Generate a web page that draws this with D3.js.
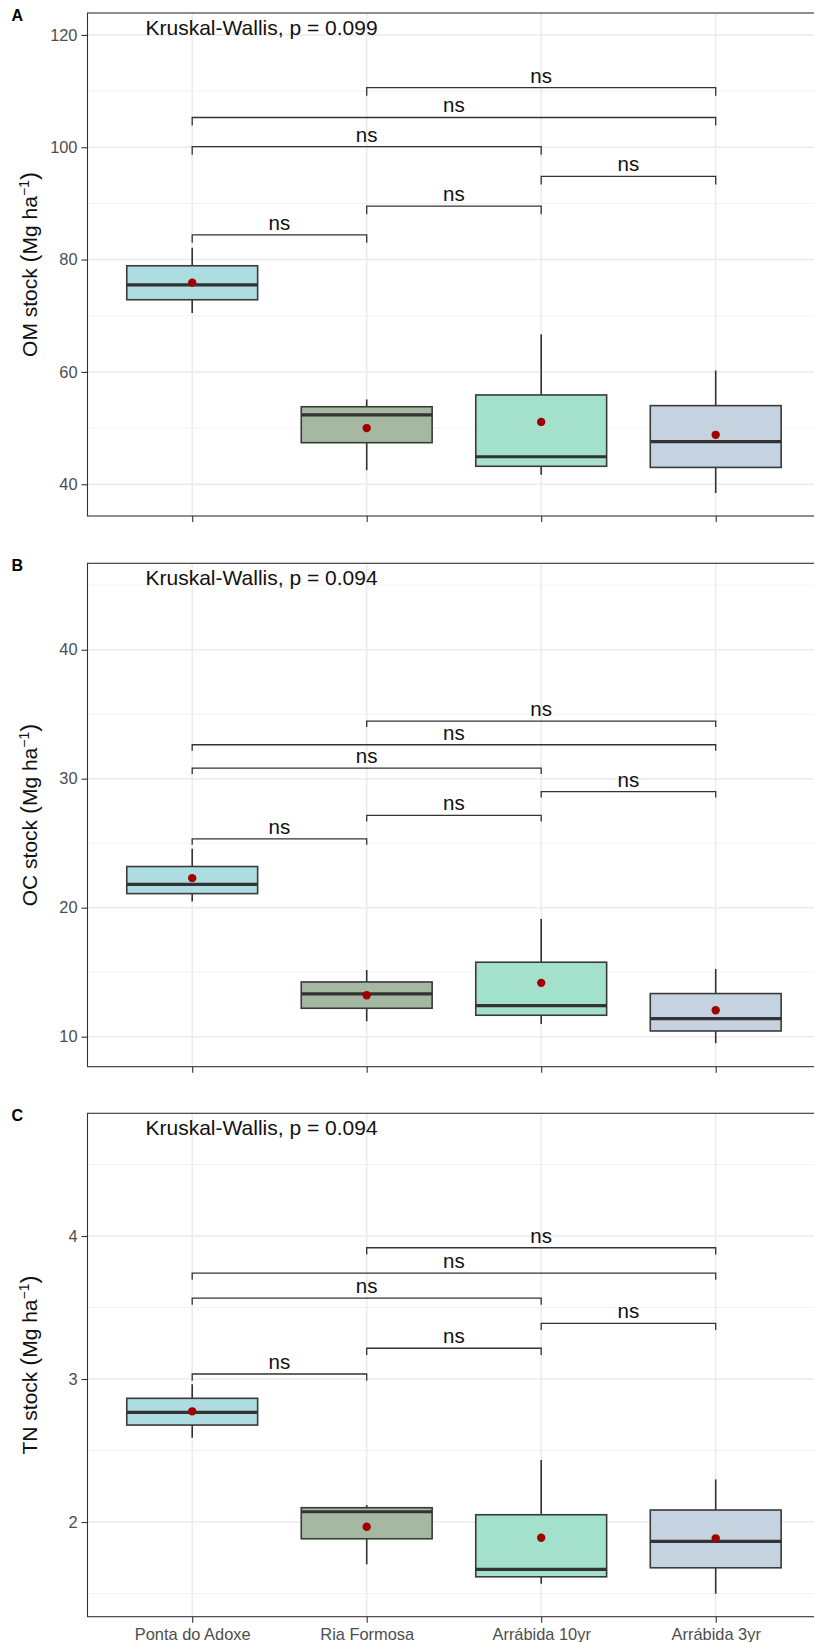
<!DOCTYPE html>
<html>
<head>
<meta charset="utf-8">
<script src="https://cdn.jsdelivr.net/npm/d3@7"></script>
<style>
  body { margin: 0; background: #fff; }
  svg { display: block; font-family: "Liberation Sans", Arial, sans-serif; }
</style>
</head>
<body>
<div id="chart"></div>
<script>
// sites on the x axis
var categories = ["Ponta do Adoxe", "Ria Formosa", "Arrábida 10yr", "Arrábida 3yr"];
var boxFills = ["#addce1", "#a5b8a2", "#a4e1cd", "#c5d3e0"];

// pairwise comparisons (index pairs) and their labels, same for all panels
var pairs = [[0, 1], [1, 2], [2, 3], [0, 2], [0, 3], [1, 3]];
var pairLabels = ["ns", "ns", "ns", "ns", "ns", "ns"];

// A - OM stock
var omLow = [70.5, 42.5, 41.7, 38.45];
var omQ1 = [72.85, 47.4, 43.2, 43.0];
var omMedian = [75.5, 52.35, 44.9, 47.6];
var omQ3 = [78.9, 53.8, 55.9, 54.0];
var omHigh = [82.1, 55.1, 66.7, 60.25];
var omMean = [75.9, 50.0, 51.1, 48.8];
var omBrackets = [84.4, 89.5, 94.8, 100.1, 105.3, 110.6];
var omTicks = [40, 60, 80, 100, 120];
var omMinor = [50, 70, 90, 110];
var omP = "Kruskal-Wallis, p = 0.099";

// B - OC stock
var ocLow = [20.47, 11.19, 10.99, 9.49];
var ocQ1 = [21.09, 12.2, 11.66, 10.44];
var ocMedian = [21.8, 13.31, 12.4, 11.4];
var ocQ3 = [23.19, 14.24, 15.77, 13.34];
var ocHigh = [24.56, 15.17, 19.13, 15.25];
var ocMean = [22.29, 13.21, 14.17, 12.05];
var ocBrackets = [25.34, 27.15, 29.0, 30.82, 32.63, 34.47];
var ocTicks = [10, 20, 30, 40];
var ocMinor = [15, 25, 35, 45];
var ocP = "Kruskal-Wallis, p = 0.094";

// C - TN stock
var tnLow = [2.59, 1.704, 1.569, 1.499];
var tnQ1 = [2.678, 1.883, 1.617, 1.68];
var tnMedian = [2.767, 2.072, 1.669, 1.865];
var tnQ3 = [2.865, 2.1, 2.051, 2.084];
var tnHigh = [2.963, 2.119, 2.434, 2.298];
var tnMean = [2.774, 1.967, 1.89, 1.886];
var tnBrackets = [3.035, 3.215, 3.389, 3.566, 3.741, 3.918];
var tnTicks = [2, 3, 4];
var tnMinor = [1.5, 2.5, 3.5, 4.5];
var tnP = "Kruskal-Wallis, p = 0.094";

var W = 814, H = 1642;
var svg = d3.select("#chart").append("svg").attr("width", W).attr("height", H);

var left = 87.5, right = 820.4;
var x = d3.scalePoint().domain(categories).range([left, right]).padding(0.6);
var boxW = x.step() * 0.75;

var panels = [
  {tag: "A", top: 13, bottom: 516, domain: [34.35, 123.9], title: "OM stock", tip: 8,
   low: omLow, q1: omQ1, med: omMedian, q3: omQ3, high: omHigh, mean: omMean,
   brackets: omBrackets, ticks: omTicks, minor: omMinor, p: omP, showX: false},
  {tag: "B", top: 563.3, bottom: 1066.7, domain: [7.67, 46.7], title: "OC stock", tip: 6,
   low: ocLow, q1: ocQ1, med: ocMedian, q3: ocQ3, high: ocHigh, mean: ocMean,
   brackets: ocBrackets, ticks: ocTicks, minor: ocMinor, p: ocP, showX: false},
  {tag: "C", top: 1113.3, bottom: 1616.7, domain: [1.338, 4.858], title: "TN stock", tip: 6.7,
   low: tnLow, q1: tnQ1, med: tnMedian, q3: tnQ3, high: tnHigh, mean: tnMean,
   brackets: tnBrackets, ticks: tnTicks, minor: tnMinor, p: tnP, showX: true}
];

var drawPanel = function(p){
  var y = d3.scaleLinear().domain(p.domain).range([p.bottom, p.top]);
  var g = svg.append("g");

  // minor grid
  g.selectAll(".minor").data(p.minor.filter(function(v){ return v > p.domain[0] && v < p.domain[1]; }))
    .enter().append("line")
    .attr("x1", left).attr("x2", right)
    .attr("y1", function(d){ return y(d); }).attr("y2", function(d){ return y(d); })
    .attr("stroke", "#f2f2f2").attr("stroke-width", 1);

  // major grid
  g.selectAll(".major").data(p.ticks).enter().append("line")
    .attr("x1", left).attr("x2", right)
    .attr("y1", function(d){ return y(d); }).attr("y2", function(d){ return y(d); })
    .attr("stroke", "#ebebeb").attr("stroke-width", 1.5);
  g.selectAll(".vgrid").data(categories).enter().append("line")
    .attr("x1", function(d){ return x(d); }).attr("x2", function(d){ return x(d); })
    .attr("y1", p.top).attr("y2", p.bottom)
    .attr("stroke", "#ebebeb").attr("stroke-width", 1.5);

  var idx = d3.range(categories.length);

  // whiskers
  g.selectAll(".whisk").data(idx).enter().append("line")
    .attr("x1", function(i){ return x(categories[i]); })
    .attr("x2", function(i){ return x(categories[i]); })
    .attr("y1", function(i){ return y(p.low[i]); })
    .attr("y2", function(i){ return y(p.high[i]); })
    .attr("stroke", "#333").attr("stroke-width", 1.6);

  // boxes
  g.selectAll(".box").data(idx).enter().append("rect")
    .attr("x", function(i){ return x(categories[i]) - boxW / 2; })
    .attr("width", boxW)
    .attr("y", function(i){ return y(p.q3[i]); })
    .attr("height", function(i){ return y(p.q1[i]) - y(p.q3[i]); })
    .attr("fill", function(i){ return boxFills[i]; })
    .attr("stroke", "#3a3a3a").attr("stroke-width", 1.6);

  // medians
  g.selectAll(".med").data(idx).enter().append("line")
    .attr("x1", function(i){ return x(categories[i]) - boxW / 2; })
    .attr("x2", function(i){ return x(categories[i]) + boxW / 2; })
    .attr("y1", function(i){ return y(p.med[i]); })
    .attr("y2", function(i){ return y(p.med[i]); })
    .attr("stroke", "#333").attr("stroke-width", 3.2);

  // means
  g.selectAll(".mean").data(idx).enter().append("circle")
    .attr("cx", function(i){ return x(categories[i]); })
    .attr("cy", function(i){ return y(p.mean[i]); })
    .attr("r", 4.2)
    .attr("fill", "#a00000");

  // comparison brackets
  pairs.forEach(function(pr, k){
    var x1 = x(categories[pr[0]]), x2 = x(categories[pr[1]]), yy = y(p.brackets[k]);
    g.append("path")
      .attr("d", "M" + x1 + "," + (yy + p.tip) + "V" + yy + "H" + x2 + "V" + (yy + p.tip))
      .attr("fill", "none").attr("stroke", "#333").attr("stroke-width", 1.3);
    g.append("text")
      .attr("x", (x1 + x2) / 2).attr("y", yy - 5)
      .attr("text-anchor", "middle").attr("font-size", 20.5).attr("fill", "#111")
      .text(pairLabels[k]);
  });

  // Kruskal-Wallis label
  g.append("text").attr("x", 145.5).attr("y", p.top + 22)
    .attr("font-size", 21).attr("fill", "#111").text(p.p);

  // panel border
  g.append("rect").attr("x", left).attr("y", p.top)
    .attr("width", right - left).attr("height", p.bottom - p.top)
    .attr("fill", "none").attr("stroke", "#333").attr("stroke-width", 1.1);

  // y axis
  var yAxis = d3.axisLeft(y).tickValues(p.ticks).tickSize(6).tickPadding(4)
    .tickFormat(d3.format("d"));
  var ya = g.append("g").attr("transform", "translate(" + left + ",0)").call(yAxis);
  ya.select(".domain").remove();
  ya.selectAll("line").attr("stroke", "#333").attr("stroke-width", 1.1);
  ya.selectAll("text").attr("font-size", 16.4).attr("fill", "#4d4d4d")
    .attr("font-family", "Liberation Sans, Arial, sans-serif");

  // x axis
  var xAxis = d3.axisBottom(x).tickSize(6).tickPadding(6);
  if(!p.showX) xAxis.tickFormat("");
  var xa = g.append("g").attr("transform", "translate(0," + p.bottom + ")").call(xAxis);
  xa.select(".domain").remove();
  xa.selectAll("line").attr("stroke", "#333").attr("stroke-width", 1.1);
  xa.selectAll("text").attr("font-size", 16.4).attr("fill", "#4d4d4d")
    .attr("font-family", "Liberation Sans, Arial, sans-serif");

  // y title
  var cy = (p.top + p.bottom) / 2;
  var t = g.append("text").attr("transform", "translate(37," + cy + ") rotate(-90)")
    .attr("text-anchor", "middle").attr("font-size", 21).attr("fill", "#111");
  t.append("tspan").text(p.title + " ");
  t.append("tspan").attr("font-size", 24).text("(");
  t.append("tspan").text("Mg ha");
  t.append("tspan").attr("font-size", 14).attr("dy", -8).text("\u22121");
  t.append("tspan").attr("dy", 8).attr("font-size", 24).text(")");

  // panel tag
  g.append("text").attr("x", 11.5).attr("y", p.top + 7.5)
    .attr("font-size", 16).attr("font-weight", "bold").attr("fill", "#000").text(p.tag);
};

panels.forEach(function(p){ drawPanel(p); });
</script>
</body>
</html>
